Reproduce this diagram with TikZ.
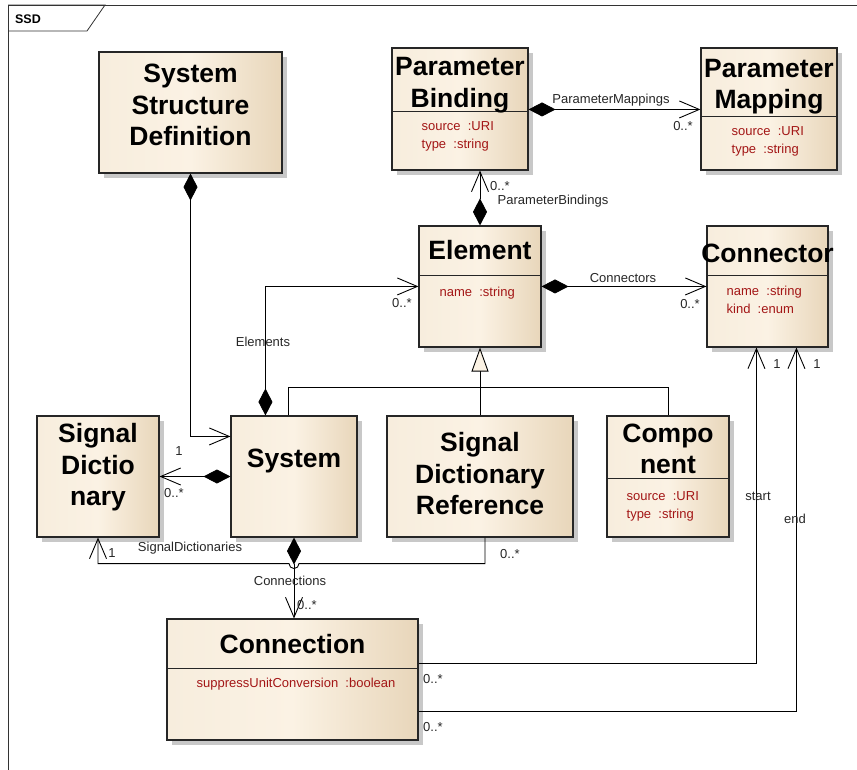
\documentclass[tikz,border=0pt]{standalone}
\usepackage{fontspec}
\setmainfont{Liberation Sans}
\usepackage{tikz}
\usetikzlibrary{arrows.meta, positioning, shadows}
\definecolor{boxleft}{RGB}{247,237,221}
\definecolor{boxmid}{RGB}{251,242,228}
\definecolor{boxright}{RGB}{232,214,186}
\definecolor{attrred}{RGB}{163,22,22}
\definecolor{shadowgray}{RGB}{200,200,200}

\begin{document}
\begin{tikzpicture}[x=1pt, y=-1pt,
    classbox/.style={rectangle, draw=black!85, line width=1.1pt, inner sep=0pt,
        left color=boxleft, right color=boxright, middle color=boxmid,
        drop shadow={shadow xshift=5pt, shadow yshift=-5pt, fill=shadowgray, opacity=1}},
    title/.style={inner sep=0pt, align=center, font=\fontsize{26.5}{31.5}\selectfont\bfseries},
    attr/.style={inner sep=0pt, align=left, text=attrred, font=\fontsize{13}{18}\selectfont},
    lbl/.style={inner sep=0pt, text=black!85, font=\fontsize{13}{15}\selectfont},
    divider/.style={line width=0.9pt, black!85},
    comp/.style={line width=0.9pt, {Diamond[length=27pt,width=14pt]}-{Straight Barb[length=20pt,width=17pt]}},
    assoc/.style={line width=0.9pt, -{Straight Barb[length=20pt,width=17pt]}},
    inherit/.style={line width=0.9pt, -{Triangle[length=24pt,width=17pt,fill=boxmid]}}]

    \useasboundingbox (0,0) rectangle (857,770);

    % frame
    \draw[line width=0.8pt, black!80] (857,5) -- (8,5) -- (8,770);
    \draw[line width=0.8pt, black!80] (8,5) -- (105,5) -- (87,31) -- (8,31);
    \node[inner sep=0pt, font=\fontsize{12.5}{14}\selectfont\bfseries] (frameTag) at (28,19) {SSD};

    % classes
    \node[classbox, minimum width=183pt, minimum height=121pt] (ssd) at (190.5,112.5) {};
    \node[classbox, minimum width=136pt, minimum height=122pt] (pb) at (460,109) {};
    \node[classbox, minimum width=136pt, minimum height=122pt] (pm) at (769,109) {};
    \node[classbox, minimum width=122pt, minimum height=121pt] (elem) at (480,286.5) {};
    \node[classbox, minimum width=121pt, minimum height=121pt] (conn) at (767.5,286.5) {};
    \node[classbox, minimum width=122pt, minimum height=121pt] (sigdict) at (98,476.5) {};
    \node[classbox, minimum width=126pt, minimum height=121pt] (sys) at (294,476.5) {};
    \node[classbox, minimum width=186pt, minimum height=121pt] (sdr) at (480,476.5) {};
    \node[classbox, minimum width=122pt, minimum height=121pt] (comp) at (668,476.5) {};
    \node[classbox, minimum width=251pt, minimum height=121pt] (cnx) at (292.5,679.5) {};

    \draw[divider] ([yshift=-64pt]pb.north west) -- ([yshift=-64pt]pb.north east);
    \draw[divider] ([yshift=-69pt]pm.north west) -- ([yshift=-69pt]pm.north east);
    \draw[divider] ([yshift=-50pt]elem.north west) -- ([yshift=-50pt]elem.north east);
    \draw[divider] ([yshift=-50pt]conn.north west) -- ([yshift=-50pt]conn.north east);
    \draw[divider] ([yshift=-63pt]comp.north west) -- ([yshift=-63pt]comp.north east);
    \draw[divider] ([yshift=-50pt]cnx.north west) -- ([yshift=-50pt]cnx.north east);

    \node[title, below=12.5pt of ssd.north] (ssdT) {System\\Structure\\Definition};
    \node[title, below=10pt of pb.north] (pbT) {Parameter\\Binding};
    \node[title, below=11.5pt of pm.north] (pmT) {Parameter\\Mapping};
    \node[title, below=15pt of elem.north] (elemT) {Element};
    \node[title, below=18.5pt of conn.north] (connT) {Connector};
    \node[title, below=8pt of sigdict.north] (sigdictT) {Signal\\Dictio\\nary};
    \node[title, below=33.5pt of sys.north] (sysT) {System};
    \node[title, below=17pt of sdr.north] (sdrT) {Signal\\Dictionary\\Reference};
    \node[title, below=8pt of comp.north] (compT) {Compo\\nent};
    \node[title, below=15.5pt of cnx.north] (cnxT) {Connection};

    \node[attr, below right=74pt and 30pt of pb.north west] (pbA) {source\ \ :URI\\type\ \ :string};
    \node[attr, below right=79pt and 31pt of pm.north west] (pmA) {source\ \ :URI\\type\ \ :string};
    \node[attr, below right=61pt and 21pt of elem.north west] (elemA) {name\ \ :string};
    \node[attr, below right=60pt and 20pt of conn.north west] (connA) {name\ \ :string\\kind\ \ :enum};
    \node[attr, below right=76pt and 20pt of comp.north west] (compA) {source\ \ :URI\\type\ \ :string};
    \node[attr, below right=59pt and 30pt of cnx.north west] (cnxA) {suppressUnitConversion\ \ :boolean};

    % connectors
    \draw[comp] (ssd.south) |- ([yshift=-21pt]sys.north west);
    \draw[comp] (sys.west) -- (sigdict.east);
    \draw[comp] ([xshift=35pt]sys.north west) |- ([yshift=-61pt]elem.north west);
    \draw[comp] ([yshift=-61pt]elem.north east) -- ([yshift=-61pt]conn.north west);
    \draw[comp] (elem.north) -- (elem.north |- pb.south);
    \draw[comp] ([yshift=-62pt]pb.north east) -- ([yshift=-62pt]pm.north west);
    \draw[comp] (sys.south) -- (sys.south |- cnx.north);

    \coordinate (genJ) at ([yshift=-40pt]elem.south);
    \draw[inherit] (sdr.north) -- (elem.south);
    \draw[line width=0.9pt] ([xshift=-6pt]sys.north) |- (genJ) -| (comp.north);

    \draw[assoc] ([xshift=5pt]sdr.south) |- ([shift={(5pt,-26pt)}]sys.south)
        arc[start angle=0, end angle=-180, radius=5pt] -| (sigdict.south);
    \draw[assoc] ([yshift=-45pt]cnx.north east) -| ([xshift=50pt]conn.south west);
    \draw[assoc] ([yshift=-93pt]cnx.north east) -| ([xshift=90pt]conn.south west);

    % labels
    \node[lbl] (mSsdSys) at (179,451) {1};
    \node[lbl] (mSysSd) at (174,493) {0..*};
    \node[lbl] (lElements) at (263,342) {Elements};
    \node[lbl] (mElem) at (402,303) {0..*};
    \node[lbl] (lConnectors) at (623,278) {Connectors};
    \node[lbl] (mConn) at (690,304) {0..*};
    \node[lbl] (mPb) at (500,186) {0..*};
    \node[lbl] (lPb) at (553,201) {ParameterBindings};
    \node[lbl] (lPm) at (611,100) {ParameterMappings};
    \node[lbl] (mPm) at (683,126) {0..*};
    \node[lbl] (lCnx) at (290,581) {Connections};
    \node[lbl] (mCnx) at (307,605) {0..*};
    \node[lbl] (lSd) at (190,548) {SignalDictionaries};
    \node[lbl] (mSd) at (112,553) {1};
    \node[lbl] (mSdr) at (510,554) {0..*};
    \node[lbl] (mStart) at (777,364) {1};
    \node[lbl] (mEnd) at (817,364) {1};
    \node[lbl] (lStart) at (758,496) {start};
    \node[lbl] (lEnd) at (795,519) {end};
    \node[lbl] (mCnxS) at (433,679) {0..*};
    \node[lbl] (mCnxE) at (433,727) {0..*};
\end{tikzpicture}
\end{document}
